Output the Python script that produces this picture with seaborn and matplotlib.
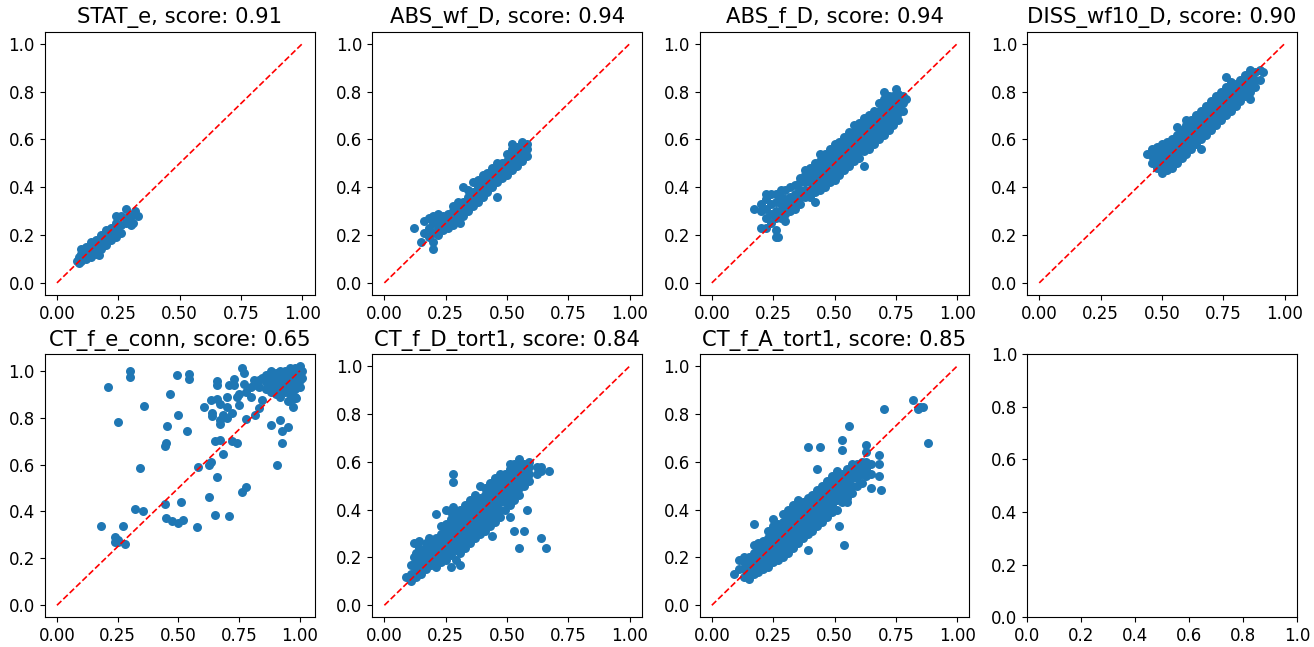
import pandas as pd
import matplotlib
matplotlib.use('Agg')
import matplotlib.pyplot as plt
import seaborn as sns

# each panel: x positions, and for every x the y values
stat_e_x = [0.08, 0.09, 0.10, 0.12, 0.14, 0.16, 0.17, 0.18, 0.20, 0.22, 0.24, 0.26, 0.28, 0.30, 0.31, 0.32, 0.33]
stat_e_y = [[0.09], [0.085, 0.11], [0.09, 0.12, 0.14], [0.10, 0.13, 0.15], [0.11, 0.14, 0.17],
            [0.12, 0.15, 0.18], [0.115], [0.14, 0.17, 0.20], [0.16, 0.19, 0.22], [0.18, 0.21, 0.23],
            [0.19, 0.22, 0.25, 0.28], [0.21, 0.24, 0.28], [0.25, 0.27, 0.31], [0.24, 0.28],
            [0.25], [0.30], [0.28]]

abs_wf_x = [0.12, 0.15, 0.16, 0.18, 0.20, 0.22, 0.24, 0.26, 0.28, 0.30, 0.31, 0.32, 0.34, 0.36,
            0.38, 0.40, 0.42, 0.44, 0.46, 0.48, 0.50, 0.52, 0.54, 0.56, 0.58]
abs_wf_y = [[0.23], [0.17], [0.21, 0.26], [0.19, 0.23, 0.27], [0.14, 0.17, 0.21, 0.25, 0.28],
            [0.20, 0.23, 0.26, 0.29], [0.22, 0.25, 0.28], [0.23, 0.26, 0.29], [0.24, 0.27, 0.30, 0.32],
            [0.26, 0.29, 0.32, 0.34], [0.25], [0.28, 0.31, 0.34, 0.40], [0.30, 0.33, 0.36, 0.39],
            [0.32, 0.35, 0.38, 0.42], [0.34, 0.37, 0.40, 0.43], [0.36, 0.39, 0.42, 0.45],
            [0.38, 0.41, 0.44, 0.46], [0.40, 0.43, 0.46, 0.48], [0.36, 0.42, 0.45, 0.48, 0.50],
            [0.44, 0.47, 0.50], [0.45, 0.48, 0.51, 0.54], [0.47, 0.50, 0.53, 0.56, 0.58],
            [0.49, 0.52, 0.55, 0.57], [0.51, 0.54, 0.57, 0.59], [0.53, 0.56, 0.58]]

abs_f_x = [0.17, 0.20, 0.22, 0.24, 0.26, 0.27, 0.28, 0.30, 0.32, 0.34, 0.36, 0.38, 0.40, 0.42,
           0.44, 0.46, 0.48, 0.50, 0.52, 0.54, 0.56, 0.58, 0.60, 0.62, 0.64, 0.66, 0.68, 0.70,
           0.72, 0.74, 0.75, 0.76, 0.78, 0.79]
abs_f_y = [[0.31], [0.23, 0.30, 0.33], [0.23, 0.27, 0.31, 0.35, 0.37], [0.25, 0.29, 0.33, 0.37],
           [0.19, 0.22, 0.27, 0.30, 0.34, 0.37], [0.19], [0.27, 0.30, 0.33, 0.36, 0.39],
           [0.26, 0.29, 0.32, 0.35, 0.39], [0.30, 0.33, 0.36, 0.40], [0.31, 0.34, 0.37, 0.41],
           [0.33, 0.36, 0.39, 0.42, 0.44], [0.36, 0.39, 0.42, 0.45, 0.47],
           [0.36, 0.39, 0.42, 0.45, 0.48], [0.34, 0.38, 0.41, 0.44, 0.47, 0.50],
           [0.39, 0.42, 0.45, 0.48, 0.51, 0.54], [0.40, 0.43, 0.46, 0.49, 0.52, 0.54],
           [0.42, 0.45, 0.48, 0.51, 0.54, 0.56], [0.43, 0.46, 0.49, 0.52, 0.55, 0.58],
           [0.45, 0.48, 0.51, 0.54, 0.57, 0.59], [0.47, 0.50, 0.53, 0.56, 0.59, 0.61],
           [0.49, 0.52, 0.55, 0.58, 0.61, 0.63], [0.51, 0.54, 0.57, 0.60, 0.63, 0.66],
           [0.52, 0.55, 0.58, 0.61, 0.64, 0.67], [0.49, 0.55, 0.58, 0.61, 0.64, 0.67, 0.69],
           [0.56, 0.59, 0.62, 0.65, 0.68, 0.70], [0.58, 0.61, 0.64, 0.67, 0.70, 0.72],
           [0.60, 0.63, 0.66, 0.69, 0.72, 0.75], [0.62, 0.65, 0.68, 0.71, 0.74, 0.77, 0.80],
           [0.64, 0.67, 0.70, 0.73, 0.76, 0.78], [0.66, 0.69, 0.72, 0.75, 0.78], [0.81],
           [0.68, 0.71, 0.74, 0.77, 0.79], [0.72, 0.75, 0.78], [0.77]]

diss_x = [0.44, 0.46, 0.48, 0.50, 0.52, 0.54, 0.56, 0.58, 0.60, 0.62, 0.64, 0.66, 0.68, 0.70,
          0.72, 0.74, 0.76, 0.78, 0.80, 0.82, 0.84, 0.86, 0.88, 0.90, 0.91]
diss_y = [[0.54], [0.50, 0.53, 0.56], [0.48, 0.51, 0.54, 0.57], [0.46, 0.49, 0.52, 0.55, 0.58],
          [0.47, 0.50, 0.53, 0.56, 0.59], [0.48, 0.51, 0.54, 0.57, 0.60],
          [0.50, 0.53, 0.56, 0.59, 0.62, 0.65], [0.52, 0.55, 0.58, 0.61, 0.64],
          [0.54, 0.57, 0.60, 0.63, 0.66, 0.68], [0.56, 0.59, 0.62, 0.65, 0.68],
          [0.58, 0.61, 0.64, 0.67, 0.70], [0.56, 0.60, 0.63, 0.66, 0.69, 0.72],
          [0.62, 0.65, 0.68, 0.71, 0.74], [0.64, 0.67, 0.70, 0.73, 0.76],
          [0.66, 0.69, 0.72, 0.75, 0.78], [0.68, 0.71, 0.74, 0.77, 0.80],
          [0.70, 0.73, 0.76, 0.79, 0.82, 0.86], [0.72, 0.75, 0.78, 0.81, 0.84],
          [0.74, 0.77, 0.80, 0.83], [0.76, 0.79, 0.82, 0.85], [0.78, 0.81, 0.84, 0.87],
          [0.77, 0.80, 0.83, 0.86, 0.89], [0.82, 0.85, 0.88], [0.85, 0.89], [0.88]]

conn_x = [0.18, 0.21, 0.24, 0.25, 0.27, 0.28, 0.30, 0.32, 0.34, 0.355, 0.36, 0.445, 0.45, 0.455,
          0.465, 0.475, 0.495, 0.50, 0.51, 0.52, 0.535, 0.545, 0.575, 0.58, 0.605, 0.625, 0.635,
          0.64, 0.65, 0.66, 0.67, 0.685, 0.70, 0.71, 0.72, 0.73, 0.74, 0.75, 0.76, 0.77, 0.78,
          0.80, 0.81, 0.815, 0.83, 0.845, 0.86, 0.88, 0.90, 0.905, 0.92, 0.925, 0.94, 0.95,
          0.96, 0.97, 0.98, 0.985, 1.00, 1.01]
conn_y = [[0.34], [0.93], [0.27, 0.29], [0.78, 0.28, 0.27], [0.34], [0.26], [1.00, 0.975],
          [0.41], [0.585], [0.40], [0.85], [0.43, 0.68], [0.37, 0.69], [0.765], [0.90], [0.36],
          [0.98], [0.81, 0.35], [0.44], [0.365], [0.745], [0.985, 0.965], [0.335], [0.59],
          [0.845], [0.46, 0.60], [0.61, 0.875], [0.82, 0.805], [0.385, 0.70], [0.955, 0.94, 0.545, 0.88],
          [0.79, 0.775, 0.86, 0.705], [0.645, 0.81], [0.89, 0.845, 0.80], [0.94, 0.38],
          [0.70, 0.82], [0.94, 0.965], [0.89, 0.69], [0.855, 0.90], [1.01, 0.485],
          [0.99, 0.945], [0.505, 0.795, 0.91], [0.89, 0.93], [0.94, 0.96], [0.81], [0.84, 0.93, 0.96],
          [0.875, 0.97], [0.92, 0.95, 0.98], [0.77, 0.91, 0.94, 0.97, 1.00],
          [0.90, 0.93, 0.96, 0.99], [0.60], [0.79, 0.89, 0.92, 0.95, 0.98, 1.00], [0.745, 0.69],
          [0.91, 0.94, 0.97, 1.00], [0.76, 0.87], [0.90, 0.93, 0.96, 0.99, 1.01],
          [0.88, 0.845], [0.89, 0.92, 0.95, 0.98, 1.01], [0.885], [0.93, 0.96, 0.99, 1.02],
          [0.97, 1.00]]

tort_d_x = [0.09, 0.11, 0.12, 0.13, 0.14, 0.15, 0.17, 0.18, 0.19, 0.21, 0.23, 0.25, 0.27, 0.28,
            0.29, 0.31, 0.33, 0.35, 0.37, 0.39, 0.41, 0.43, 0.44, 0.45, 0.47, 0.49, 0.51, 0.53,
            0.55, 0.57, 0.58, 0.59, 0.62, 0.64, 0.66, 0.67]
tort_d_y = [[0.12], [0.10, 0.13, 0.17], [0.20, 0.26], [0.12, 0.15, 0.18, 0.22], [0.27, 0.24],
            [0.13, 0.16, 0.19, 0.22], [0.15, 0.18, 0.21, 0.24, 0.26], [0.28],
            [0.17, 0.20, 0.23, 0.26], [0.16, 0.19, 0.22, 0.25, 0.28, 0.38],
            [0.18, 0.21, 0.24, 0.27, 0.30, 0.33], [0.19, 0.22, 0.25, 0.28, 0.31, 0.34, 0.40],
            [0.16, 0.21, 0.24, 0.27, 0.30, 0.33, 0.36, 0.39], [0.55, 0.515, 0.41],
            [0.19, 0.23, 0.26, 0.29, 0.32, 0.35, 0.38], [0.17, 0.22, 0.25, 0.28, 0.31, 0.34, 0.37, 0.40],
            [0.24, 0.27, 0.30, 0.33, 0.36, 0.39, 0.42], [0.26, 0.29, 0.32, 0.35, 0.38, 0.41, 0.44],
            [0.28, 0.31, 0.34, 0.37, 0.40, 0.43, 0.46], [0.30, 0.33, 0.36, 0.39, 0.42, 0.45, 0.50],
            [0.31, 0.34, 0.37, 0.40, 0.43, 0.46, 0.49], [0.33, 0.36, 0.39, 0.42, 0.45, 0.48, 0.51], [0.29],
            [0.35, 0.38, 0.41, 0.44, 0.47, 0.50, 0.53], [0.37, 0.40, 0.43, 0.46, 0.49, 0.52, 0.55],
            [0.40, 0.43, 0.46, 0.49, 0.52, 0.55], [0.37, 0.42, 0.45, 0.48, 0.51, 0.54, 0.57, 0.59],
            [0.31, 0.44, 0.47, 0.50, 0.53, 0.56, 0.59], [0.24, 0.46, 0.49, 0.52, 0.55, 0.58, 0.61],
            [0.31, 0.50, 0.53, 0.56, 0.59], [0.40], [0.52, 0.55, 0.58, 0.60], [0.55, 0.58],
            [0.28, 0.56, 0.58], [0.24], [0.56]]

tort_a_x = [0.09, 0.11, 0.13, 0.15, 0.17, 0.19, 0.21, 0.23, 0.25, 0.27, 0.29, 0.31, 0.33, 0.35,
            0.37, 0.39, 0.41, 0.43, 0.44, 0.45, 0.47, 0.49, 0.51, 0.52, 0.53, 0.54, 0.55, 0.56,
            0.57, 0.59, 0.61, 0.63, 0.65, 0.68, 0.69, 0.70, 0.82, 0.84, 0.85, 0.86, 0.88]
tort_a_y = [[0.13], [0.15, 0.19], [0.12, 0.15, 0.18, 0.20], [0.11, 0.14, 0.17, 0.20],
            [0.13, 0.16, 0.19, 0.22, 0.25, 0.34], [0.14, 0.17, 0.20, 0.23, 0.26],
            [0.15, 0.18, 0.21, 0.24, 0.27], [0.16, 0.19, 0.22, 0.25, 0.28, 0.31],
            [0.18, 0.21, 0.24, 0.27, 0.30, 0.33, 0.36], [0.19, 0.22, 0.25, 0.28, 0.31, 0.34],
            [0.20, 0.23, 0.26, 0.29, 0.32, 0.35, 0.38], [0.22, 0.25, 0.28, 0.31, 0.34, 0.37, 0.40],
            [0.24, 0.27, 0.30, 0.33, 0.36, 0.39, 0.42], [0.26, 0.29, 0.32, 0.35, 0.38, 0.41, 0.44],
            [0.28, 0.31, 0.34, 0.37, 0.40, 0.43], [0.23, 0.30, 0.33, 0.36, 0.39, 0.42, 0.45, 0.66],
            [0.31, 0.34, 0.37, 0.40, 0.43, 0.46], [0.33, 0.36, 0.39, 0.42, 0.45, 0.48, 0.57], [0.66],
            [0.35, 0.38, 0.41, 0.44, 0.47, 0.50], [0.37, 0.40, 0.43, 0.46, 0.49, 0.52],
            [0.39, 0.42, 0.45, 0.48, 0.51, 0.54], [0.40, 0.44, 0.47, 0.50, 0.53, 0.56], [0.33],
            [0.43, 0.46, 0.49, 0.52, 0.55, 0.65, 0.69], [0.25], [0.43, 0.45, 0.48, 0.51, 0.54, 0.57],
            [0.75], [0.47, 0.50, 0.53, 0.56, 0.59], [0.50, 0.53, 0.56, 0.59], [0.51, 0.55, 0.58, 0.60],
            [0.54, 0.57, 0.60, 0.64, 0.67], [0.49, 0.55, 0.59], [0.54, 0.59, 0.63], [0.48], [0.82],
            [0.86], [0.82], [0.83], [0.83], [0.68]]

titles = ['STAT_e, score: 0.91', 'ABS_wf_D, score: 0.94', 'ABS_f_D, score: 0.94',
          'DISS_wf10_D, score: 0.90', 'CT_f_e_conn, score: 0.65', 'CT_f_D_tort1, score: 0.84',
          'CT_f_A_tort1, score: 0.85']
panels = [(stat_e_x, stat_e_y), (abs_wf_x, abs_wf_y), (abs_f_x, abs_f_y), (diss_x, diss_y),
          (conn_x, conn_y), (tort_d_x, tort_d_y), (tort_a_x, tort_a_y)]
diag = [0, 1]

plt.rcParams['font.size'] = 12
plt.rcParams['font.family'] = ['DejaVu Sans']

fig, axes = plt.subplots(2, 4, figsize=(13.14, 6.47), dpi=100)
fig.subplots_adjust(left=0.034, right=0.987, top=0.951, bottom=0.046, wspace=0.213, hspace=0.225)
axes = axes.flatten()

for ax, (xs, ys), title in zip(axes, panels, titles):
    df = pd.DataFrame([(x, y) for x, col in zip(xs, ys) for y in col], columns=['true', 'pred'])
    sns.scatterplot(data=df, x='true', y='pred', ax=ax, color='#1f77b4', s=42, linewidth=0)
    ax.plot(diag, diag, 'r--', lw=1.2)
    ax.set_title(title, fontsize=15.2)
    ax.set_xlabel('')
    ax.set_ylabel('')
    ax.set_xticks([0.0, 0.25, 0.5, 0.75, 1.0])
    ax.set_yticks([0.0, 0.2, 0.4, 0.6, 0.8, 1.0])

# last panel stays empty
axes[7].set_xticks([0.0, 0.2, 0.4, 0.6, 0.8, 1.0])
axes[7].set_yticks([0.0, 0.2, 0.4, 0.6, 0.8, 1.0])

plt.savefig('out.png', dpi=100)
